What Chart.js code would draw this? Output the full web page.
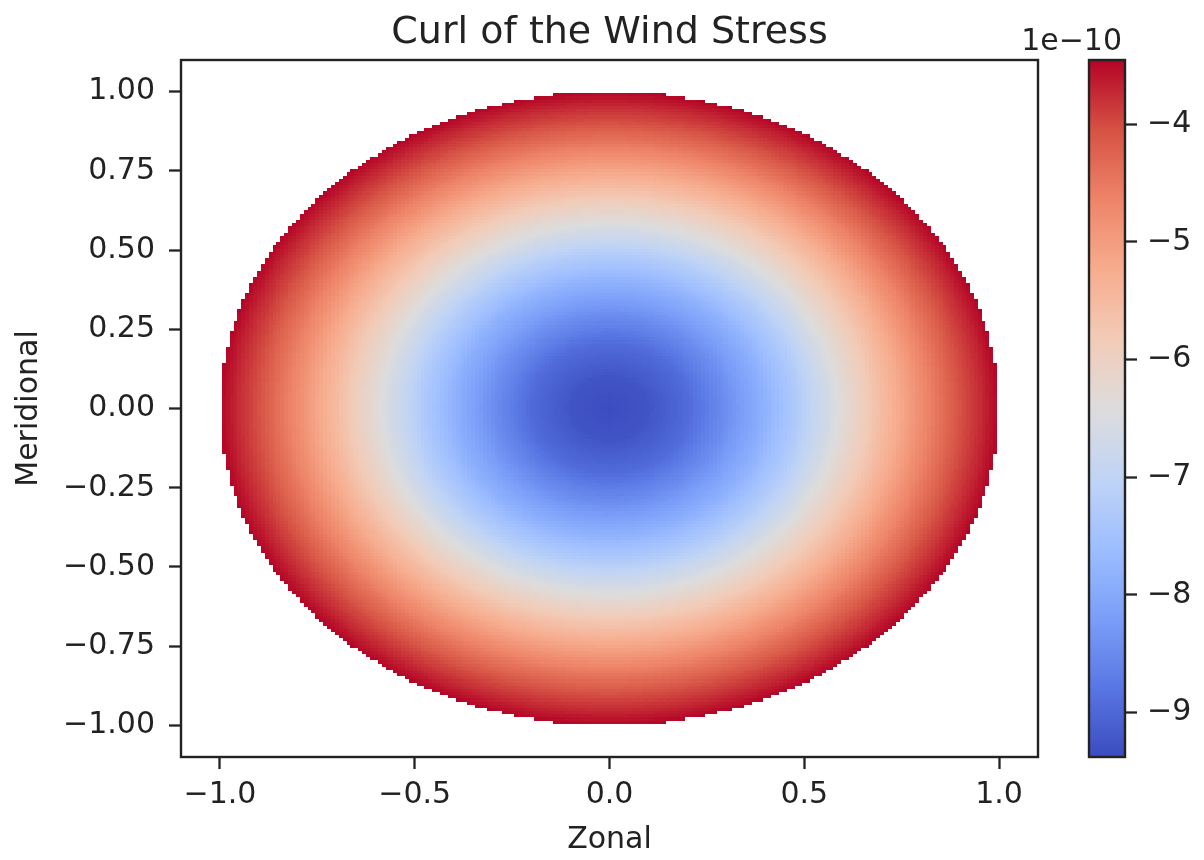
<!DOCTYPE html>
<html>
<head>
<meta charset="utf-8">
<title>Curl of the Wind Stress</title>
<script src="https://cdn.jsdelivr.net/npm/chart.js@4.4.1/dist/chart.umd.min.js"></script>
<style>
  html, body { margin:0; padding:0; background:#fff; }
  canvas { display:block; }
</style>
</head>
<body>
<canvas id="curlChart" width="1204" height="860"></canvas>
<script>
// radial profile of the curl (units of 1e-10)
const profileRadius = [0, 0.1, 0.2, 0.3, 0.4, 0.5, 0.6, 0.7, 0.8, 0.9, 1.0];
const profileCurl = [-9.38, -9.26, -8.96, -8.43, -7.84, -7.13, -6.30, -5.53, -4.76, -4.05, -3.46];

// mesh of the disk: cells every 0.01 from -1 to 1
const gridStep = 0.01;
const gridCount = 100;

// ticks
const xTicks = [-1.0, -0.5, 0.0, 0.5, 1.0];
const yTicks = [-1.0, -0.75, -0.5, -0.25, 0.0, 0.25, 0.5, 0.75, 1.0];
const cbarTicks = [-9, -8, -7, -6, -5, -4];

// range of the colour bar
const cbarMin = -9.377;
const cbarMax = -3.456;

// coolwarm colormap
const coolwarmStops = ['#3b4cc0','#5977e3','#7b9ff9','#9ebeff','#c0d4f5','#dddcdc',
                       '#f2cbb7','#f7ac8e','#ee8468','#d65244','#b40426'];

function hexToRgb(h){
    return [parseInt(h.slice(1,3),16), parseInt(h.slice(3,5),16), parseInt(h.slice(5,7),16)];
}
const stopRgb = coolwarmStops.map(hexToRgb);

// lookup table so the mesh draws quickly
const lut = [];
for(let i=0;i<256;i++){
    const t = i/255*(stopRgb.length-1);
    const k = Math.min(Math.floor(t), stopRgb.length-2);
    const f = t-k;
    const a = stopRgb[k], b = stopRgb[k+1];
    lut.push("rgb(" + Math.round(a[0]+(b[0]-a[0])*f) + "," +
             Math.round(a[1]+(b[1]-a[1])*f) + "," +
             Math.round(a[2]+(b[2]-a[2])*f) + ")");
}
function coolwarm(t){
    t = Math.max(0, Math.min(1, t));
    return lut[Math.round(t*255)];
}

// curl at a radius, from the profile
function curlAt(r){
    for(let i=1;i<profileRadius.length;i++){
        if(r <= profileRadius[i]){
            const f = (r-profileRadius[i-1])/(profileRadius[i]-profileRadius[i-1]);
            return profileCurl[i-1] + (profileCurl[i]-profileCurl[i-1])*f;
        }
    }
    return profileCurl[profileCurl.length-1];
}

// cells strictly inside the unit disk (the rim is masked)
const cells = [];
for(let i=-gridCount;i<=gridCount;i++){
    for(let j=-gridCount;j<=gridCount;j++){
        const x = i*gridStep, y = j*gridStep;
        const r = Math.sqrt(x*x+y*y);
        if(r >= 1-1e-9) continue;
        cells.push({x:x, y:y, v:curlAt(r)});
    }
}

function minus(s){
    return String(s).replace("-", "\u2212");
}

const ink = "#222";
const font = "'DejaVu Sans', sans-serif";

// draw the mesh with the chart scales
const meshPlugin = {
    id: "mesh",
    beforeDatasetsDraw(chart){
        const {ctx} = chart;
        const sx = chart.scales.x, sy = chart.scales.y;
        const half = gridStep/2;
        ctx.save();
        chart.data.datasets[0].data.forEach(c=>{
            const x0 = Math.round(sx.getPixelForValue(c.x-half));
            const x1 = Math.round(sx.getPixelForValue(c.x+half));
            const y0 = Math.round(sy.getPixelForValue(c.y+half));
            const y1 = Math.round(sy.getPixelForValue(c.y-half));
            ctx.fillStyle = coolwarm((c.v-cbarMin)/(cbarMax-cbarMin));
            ctx.fillRect(x0, y0, x1-x0, y1-y0);
        });
        ctx.restore();
    },
    afterDatasetsDraw(chart){
        const {ctx, chartArea} = chart;
        ctx.save();
        ctx.strokeStyle = ink;
        ctx.lineWidth = 2.4;
        ctx.strokeRect(chartArea.left, chartArea.top, chartArea.right-chartArea.left, chartArea.bottom-chartArea.top);
        ctx.restore();
    }
};

// colour bar next to the axes
const colorbarPlugin = {
    id: "colorbar",
    afterDraw(chart){
        const {ctx} = chart;
        const cb = chart.scales.cb;
        const right = cb.left;
        const left = right-36;
        const top = cb.getPixelForValue(cbarMax);
        const bottom = cb.getPixelForValue(cbarMin);
        const grad = ctx.createLinearGradient(0, bottom, 0, top);
        coolwarmStops.forEach((c,i)=>grad.addColorStop(i/(coolwarmStops.length-1), c));
        ctx.save();
        ctx.fillStyle = grad;
        ctx.fillRect(left, top, right-left, bottom-top);
        ctx.strokeStyle = ink;
        ctx.lineWidth = 2.4;
        ctx.strokeRect(left, top, right-left, bottom-top);
        ctx.fillStyle = ink;
        ctx.font = "30px " + font;
        ctx.textAlign = "right";
        ctx.textBaseline = "alphabetic";
        ctx.fillText("1e\u221210", right-3, 50);
        ctx.restore();
    }
};

const tickGrid = {
    display:true,
    drawOnChartArea:false,
    drawTicks:true,
    tickLength:12,
    tickWidth:2.3,
    tickColor:ink
};

new Chart(document.getElementById("curlChart"), {
    type:"scatter",
    data:{
        datasets:[{
            data:cells,
            pointRadius:0,
            pointHoverRadius:0,
            showLine:false
        }]
    },
    options:{
        responsive:false,
        animation:false,
        devicePixelRatio:1,
        events:[],
        layout:{ padding:0 },
        plugins:{
            legend:{ display:false },
            tooltip:{ enabled:false },
            title:{
                display:true,
                text:"Curl of the Wind Stress",
                fullSize:false,
                color:ink,
                font:{ family:font, size:38, weight:"normal", lineHeight:1.2 },
                padding:{ top:10, bottom:4.4 }
            }
        },
        scales:{
            x:{
                type:"linear",
                min:-1.1,
                max:1.1,
                afterBuildTicks:s=>{ s.ticks = xTicks.map(v=>({value:v})); },
                afterFit:s=>{ s.height = 103; },
                grid:tickGrid,
                border:{ display:false },
                ticks:{
                    color:ink,
                    font:{ family:font, size:30 },
                    padding:8,
                    maxRotation:0,
                    callback:v=>minus(v.toFixed(1))
                },
                title:{
                    display:true,
                    text:"Zonal",
                    color:ink,
                    font:{ family:font, size:30, lineHeight:1.2 },
                    padding:{ top:0, bottom:2 }
                }
            },
            y:{
                type:"linear",
                min:-1.1,
                max:1.1,
                afterBuildTicks:s=>{ s.ticks = yTicks.map(v=>({value:v})); },
                afterFit:s=>{ s.width = 181; },
                grid:tickGrid,
                border:{ display:false },
                ticks:{
                    color:ink,
                    font:{ family:font, size:30 },
                    padding:14,
                    callback:v=>minus(v.toFixed(2))
                },
                title:{
                    display:true,
                    text:"Meridional",
                    color:ink,
                    font:{ family:font, size:30, lineHeight:1.2 },
                    padding:{ top:11, bottom:0 }
                }
            },
            gap:{
                type:"linear",
                axis:"y",
                position:"right",
                weight:1,
                afterFit:s=>{ s.width = 87; },
                grid:{ display:false },
                border:{ display:false },
                ticks:{ display:false }
            },
            cb:{
                type:"linear",
                axis:"y",
                position:"right",
                weight:2,
                min:cbarMin,
                max:cbarMax,
                afterBuildTicks:s=>{ s.ticks = cbarTicks.map(v=>({value:v})); },
                afterFit:s=>{ s.width = 79; },
                grid:tickGrid,
                border:{ display:false },
                ticks:{
                    color:ink,
                    font:{ family:font, size:30 },
                    padding:10,
                    callback:v=>minus(v)
                }
            }
        }
    },
    plugins:[meshPlugin, colorbarPlugin]
});
</script>
</body>
</html>
